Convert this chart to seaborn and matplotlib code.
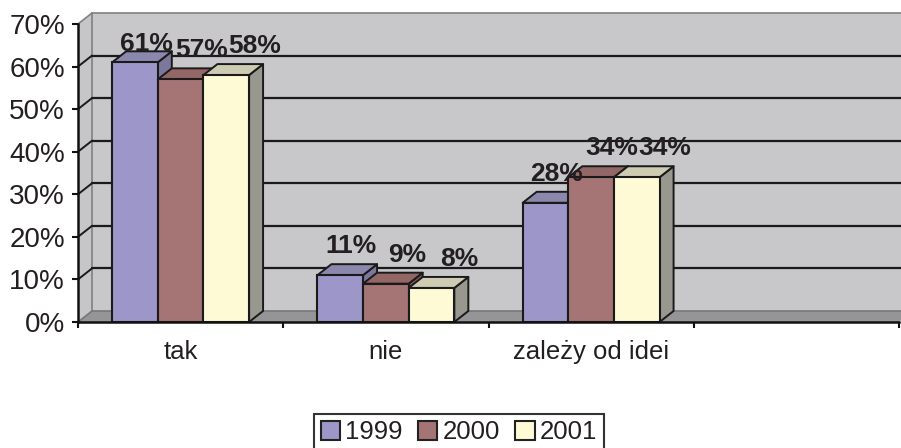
import matplotlib
matplotlib.use("Agg")
import matplotlib.pyplot as plt
import seaborn as sns
import pandas as pd
import numpy as np
from matplotlib.patches import Polygon, Patch, Rectangle
from matplotlib.lines import Line2D

# ---- data ----
categories = ["tak", "nie", "zależy od idei"]
years = ["1999", "2000", "2001"]
v1999 = [61, 11, 28]
v2000 = [57, 9, 34]
v2001 = [58, 8, 34]
yticks = [0, 10, 20, 30, 40, 50, 60, 70]

# ---- style ----
front_colors = ["#9d97c9", "#a57474", "#fffad6"]
top_colors = ["#8b87ad", "#946767", "#cdcbb2"]
side_colors = ["#7b789c", "#835a5a", "#98988f"]
label_dx_px = [11, 21, 28]
label_dy_px = 29
label_cap = 65.3
OFF = np.array([14.0, 11.0])  # depth offset in pixels
W, H = 901, 448
TXT = "#231f20"

df = pd.DataFrame({
    "kategoria": categories * 3,
    "rok": np.repeat(years, len(categories)),
    "wartosc": v1999 + v2000 + v2001,
})

sns.set_theme(style="white")
plt.rcParams["font.family"] = ["Liberation Sans", "DejaVu Sans"]

fig = plt.figure(figsize=(W / 100, H / 100), dpi=100)
ax = fig.add_axes([78 / W, 126 / H, 821 / W, 298 / H])
ax.set_facecolor("none")

order = categories + [""]
sns.barplot(data=df, x="kategoria", y="wartosc", hue="rok", order=order,
            hue_order=years, palette=front_colors, width=0.667, ax=ax,
            edgecolor="#1a1a1a", linewidth=1.5, saturation=1, legend=False)

ax.set_xlim(-0.5, len(order) - 0.5)
ax.set_ylim(yticks[0], yticks[-1])
ax.set_xlabel("")
ax.set_ylabel("")

inv = fig.transFigure.inverted()
px_per_unit = 298.0 / (yticks[-1] - yticks[0])


def fpts(pts, offs):
    d = ax.transData.transform(np.array(pts, dtype=float))
    d = d + np.array(offs, dtype=float)[:, None] * OFF
    return inv.transform(d)


x0, x1 = ax.get_xlim()
y0, y1 = ax.get_ylim()

# back wall
wall = Polygon(fpts([(x0, y0), (x1, y0), (x1, y1), (x0, y1)], [1, 1, 1, 1]),
               closed=True, facecolor="#c8c8ca", edgecolor="none",
               transform=fig.transFigure, zorder=0.1, clip_on=False)
ax.add_patch(wall)
# left wall
lwall = Polygon(fpts([(x0, y0), (x0, y1), (x0, y1), (x0, y0)], [0, 0, 1, 1]),
                closed=True, facecolor="#c6c6c8", edgecolor="none",
                transform=fig.transFigure, zorder=0.15, clip_on=False)
ax.add_patch(lwall)
# floor
floor = Polygon(fpts([(x0, y0), (x1, y0), (x1, y0), (x0, y0)], [0, 0, 1, 1]),
                closed=True, facecolor="#959597", edgecolor="none",
                transform=fig.transFigure, zorder=0.2, clip_on=False)
ax.add_patch(floor)

# wall edges
for (pa, pb, oa, ob, col) in [
    ((x0, y1), (x1, y1), 1, 1, "#808080"),
    ((x0, y0), (x0, y1), 1, 1, "#808080"),
    ((x0, y1), (x0, y1), 0, 1, "#808080"),
    ((x0, y0), (x1, y0), 1, 1, "#777777"),
    ((x0, y0), (x0, y0), 0, 1, "#777777"),
]:
    p = fpts([pa, pb], [oa, ob])
    ax.add_line(Line2D(p[:, 0], p[:, 1], color=col, lw=1.2,
                       transform=fig.transFigure, zorder=0.3, clip_on=False))

# gridlines on back + left wall
for yv in yticks[1:-1]:
    p = fpts([(x0, yv), (x1, yv)], [1, 1])
    ax.add_line(Line2D(p[:, 0], p[:, 1], color="#1a1a1a", lw=1.6,
                       transform=fig.transFigure, zorder=0.3, clip_on=False))
    p = fpts([(x0, yv), (x0, yv)], [0, 1])
    ax.add_line(Line2D(p[:, 0], p[:, 1], color="#1a1a1a", lw=1.4,
                       transform=fig.transFigure, zorder=0.3, clip_on=False))

# 3D faces for bars
bars = [p for p in ax.patches if isinstance(p, Rectangle) and p.get_height() > 0]
bars.sort(key=lambda r: r.get_x())
for i, b in enumerate(bars):
    hue = i % 3
    bx0 = b.get_x()
    bx1 = bx0 + b.get_width()
    h = b.get_height()
    base = 2 + i * 0.1
    side = Polygon(fpts([(bx1, 0), (bx1, h), (bx1, h), (bx1, 0)], [0, 0, 1, 1]),
                   closed=True, facecolor=side_colors[hue], edgecolor="#1a1a1a",
                   linewidth=1.4, joinstyle="round",
                   transform=fig.transFigure, zorder=base, clip_on=False)
    top = Polygon(fpts([(bx0, h), (bx1, h), (bx1, h), (bx0, h)], [0, 0, 1, 1]),
                  closed=True, facecolor=top_colors[hue], edgecolor="#1a1a1a",
                  linewidth=1.4, joinstyle="round",
                  transform=fig.transFigure, zorder=base + 0.01, clip_on=False)
    ax.add_patch(side)
    ax.add_patch(top)
    b.set_zorder(base + 0.02)
    ly = min(h + label_dy_px / px_per_unit, label_cap)
    ax.annotate(f"{int(round(h))}%", xy=((bx0 + bx1) / 2, ly),
                xytext=(label_dx_px[hue] * 0.72, 0),
                textcoords="offset points", ha="center", va="center",
                fontsize=19, fontweight="bold", color=TXT, zorder=10,
                annotation_clip=False)

# axes / ticks
for s in ["top", "right"]:
    ax.spines[s].set_visible(False)
for s in ["left", "bottom"]:
    ax.spines[s].set_color("#111111")
    ax.spines[s].set_linewidth(1.8)
    ax.spines[s].set_zorder(5)

ax.set_yticks(yticks)
ax.set_yticklabels([f"{v}%" for v in yticks])
ax.set_xticks(np.arange(-0.5, len(order), 1.0))
ax.set_xticklabels([""] * len(np.arange(-0.5, len(order), 1.0)))
ax.set_xticks(np.arange(len(order)), minor=True)
ax.set_xticklabels(order, minor=True)
ax.tick_params(axis="y", which="major", direction="out", length=4.5, width=1.5,
               color="#111111", labelsize=20, labelcolor=TXT, pad=5, left=True)
ax.tick_params(axis="x", which="major", direction="out", length=4.5, width=1.5,
               color="#111111", bottom=True)
ax.tick_params(axis="x", which="minor", length=0, labelsize=18.5,
               labelcolor=TXT, pad=13, bottom=True)

# legend
handles = [Patch(facecolor=c, edgecolor="#222222", linewidth=1.5, label=y)
           for c, y in zip(front_colors, years)]
leg = fig.legend(handles=handles, loc="upper center",
                 bbox_to_anchor=(459 / W, 1 - 401 / H), ncol=3, frameon=True,
                 fancybox=False, edgecolor="#333333", framealpha=1,
                 fontsize=18.5, handlelength=0.75, handleheight=0.75,
                 handletextpad=0.2, columnspacing=0.6, borderpad=0.25)
leg.get_frame().set_linewidth(1.5)
for t in leg.get_texts():
    t.set_color(TXT)

fig.savefig("out.png", dpi=100)
